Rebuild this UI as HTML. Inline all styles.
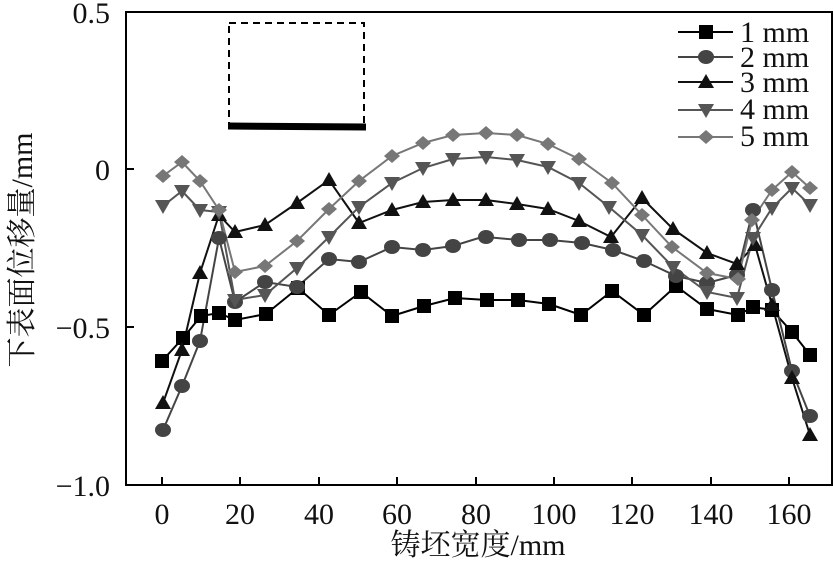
<!DOCTYPE html>
<html><head><meta charset="utf-8"><style>body{margin:0;background:#fff}</style></head><body>
<svg width="834" height="559" viewBox="0 0 834 559" xmlns="http://www.w3.org/2000/svg" font-family="Liberation Serif, Noto Serif CJK SC, serif">
<rect x="126" y="12" width="706" height="473" fill="none" stroke="#000" stroke-width="2"/>
<g stroke="#000" stroke-width="2">
<line x1="126" y1="12" x2="134" y2="12"/><line x1="126" y1="169" x2="134" y2="169"/><line x1="126" y1="327" x2="134" y2="327"/>
<line x1="162" y1="485" x2="162" y2="477"/><line x1="240" y1="485" x2="240" y2="477"/><line x1="319" y1="485" x2="319" y2="477"/><line x1="397" y1="485" x2="397" y2="477"/><line x1="476" y1="485" x2="476" y2="477"/><line x1="554" y1="485" x2="554" y2="477"/><line x1="632" y1="485" x2="632" y2="477"/><line x1="711" y1="485" x2="711" y2="477"/><line x1="789" y1="485" x2="789" y2="477"/>
</g>
<g font-size="30" text-anchor="end" fill="#111">
<text x="110" y="23">0.5</text><text x="110" y="180">0</text><text x="110" y="338">−0.5</text><text x="110" y="496">−1.0</text>
</g>
<g font-size="30" text-anchor="middle" fill="#111">
<text x="162" y="524">0</text><text x="240" y="524">20</text><text x="319" y="524">40</text><text x="397" y="524">60</text><text x="476" y="524">80</text><text x="554" y="524">100</text><text x="632" y="524">120</text><text x="711" y="524">140</text><text x="789" y="524">160</text>
<text x="478" y="555" font-size="30">铸坯宽度/mm</text>
<text transform="translate(32,250) rotate(-90)" font-size="30">下表面位移量/mm</text>
</g>
<rect x="229" y="23" width="135" height="104" fill="none" stroke="#000" stroke-width="2" stroke-dasharray="7,5"/>
<line x1="228" y1="126" x2="366" y2="127" stroke="#000" stroke-width="7"/>
<defs>
<rect id="sq" x="-7" y="-7" width="14" height="14" fill="#000"/>
<ellipse id="ci" rx="8" ry="7" fill="#444"/>
<path id="tu" d="M0,-8 L8,6 L-8,6Z" fill="#111"/>
<path id="td" d="M0,8 L8,-6 L-8,-6Z" fill="#555"/>
<path id="di" d="M0,-7 L8,0 L0,7 L-8,0Z" fill="#777"/>
</defs>
<g fill="none" stroke-width="2">
<polyline stroke="#000" points="162,361 183,338 201,316 219,313 235,320 266,314 298,288 329,315 361,292 392,316 424,306 455,298 487,300 518,300 549,304 581,315 612,291 644,315 676,286 707,309 738,315 753,307 772,310 792,332 810,355"/>
<polyline stroke="#444" points="163,430 182,386 200,341 219,238 235,302 265,282 297,287 329,259 359,262 392,247 423,250 453,246 482,237 486,237 519,240 550,240 582,243 613,250 644,261 676,276 707,283 737,275 753,210 772,290 792,371 810,416"/>
<polyline stroke="#111" points="163,403 182,350 200,273 219,215 235,232 265,225 297,203 329,180 359,223 392,210 423,202 453,200 486,200 517,204 548,209 579,221 611,237 642,198 673,229 707,253 737,264 755,245 772,305 792,378 810,435"/>
<polyline stroke="#555" points="163,206 182,191 200,210 219,212 235,300 265,295 297,268 329,237 359,207 392,183 423,168 453,159 486,157 517,160 548,167 579,183 609,207 642,235 673,267 707,292 737,298 753,238 772,208 792,188 810,205"/>
<polyline stroke="#777" points="163,176 182,162 200,181 219,210 235,272 265,266 297,241 329,209 359,181 392,156 423,143 453,135 486,133 517,135 548,144 579,159 612,183 642,215 672,247 707,273 738,279 752,220 772,190 792,172 810,188"/>
</g>
<g>
<use href="#sq" x="162" y="361"/><use href="#sq" x="183" y="338"/><use href="#sq" x="201" y="316"/><use href="#sq" x="219" y="313"/><use href="#sq" x="235" y="320"/><use href="#sq" x="266" y="314"/><use href="#sq" x="298" y="288"/><use href="#sq" x="329" y="315"/><use href="#sq" x="361" y="292"/><use href="#sq" x="392" y="316"/><use href="#sq" x="424" y="306"/><use href="#sq" x="455" y="298"/><use href="#sq" x="487" y="300"/><use href="#sq" x="518" y="300"/><use href="#sq" x="549" y="304"/><use href="#sq" x="581" y="315"/><use href="#sq" x="612" y="291"/><use href="#sq" x="644" y="315"/><use href="#sq" x="676" y="286"/><use href="#sq" x="707" y="309"/><use href="#sq" x="738" y="315"/><use href="#sq" x="753" y="307"/><use href="#sq" x="772" y="310"/><use href="#sq" x="792" y="332"/><use href="#sq" x="810" y="355"/>
<use href="#ci" x="163" y="430"/><use href="#ci" x="182" y="386"/><use href="#ci" x="200" y="341"/><use href="#ci" x="219" y="238"/><use href="#ci" x="235" y="302"/><use href="#ci" x="265" y="282"/><use href="#ci" x="297" y="287"/><use href="#ci" x="329" y="259"/><use href="#ci" x="359" y="262"/><use href="#ci" x="392" y="247"/><use href="#ci" x="423" y="250"/><use href="#ci" x="453" y="246"/><use href="#ci" x="486" y="237"/><use href="#ci" x="519" y="240"/><use href="#ci" x="550" y="240"/><use href="#ci" x="582" y="243"/><use href="#ci" x="613" y="250"/><use href="#ci" x="644" y="261"/><use href="#ci" x="676" y="276"/><use href="#ci" x="707" y="283"/><use href="#ci" x="737" y="275"/><use href="#ci" x="753" y="210"/><use href="#ci" x="772" y="290"/><use href="#ci" x="792" y="371"/><use href="#ci" x="810" y="416"/>
<use href="#tu" x="163" y="403"/><use href="#tu" x="182" y="350"/><use href="#tu" x="200" y="273"/><use href="#tu" x="219" y="215"/><use href="#tu" x="235" y="232"/><use href="#tu" x="265" y="225"/><use href="#tu" x="297" y="203"/><use href="#tu" x="329" y="180"/><use href="#tu" x="359" y="223"/><use href="#tu" x="392" y="210"/><use href="#tu" x="423" y="202"/><use href="#tu" x="453" y="200"/><use href="#tu" x="486" y="200"/><use href="#tu" x="517" y="204"/><use href="#tu" x="548" y="209"/><use href="#tu" x="579" y="221"/><use href="#tu" x="611" y="237"/><use href="#tu" x="642" y="198"/><use href="#tu" x="673" y="229"/><use href="#tu" x="707" y="253"/><use href="#tu" x="737" y="264"/><use href="#tu" x="755" y="245"/><use href="#tu" x="772" y="305"/><use href="#tu" x="792" y="378"/><use href="#tu" x="810" y="435"/>
<use href="#td" x="163" y="206"/><use href="#td" x="182" y="191"/><use href="#td" x="200" y="210"/><use href="#td" x="219" y="212"/><use href="#td" x="235" y="300"/><use href="#td" x="265" y="295"/><use href="#td" x="297" y="268"/><use href="#td" x="329" y="237"/><use href="#td" x="359" y="207"/><use href="#td" x="392" y="183"/><use href="#td" x="423" y="168"/><use href="#td" x="453" y="159"/><use href="#td" x="486" y="157"/><use href="#td" x="517" y="160"/><use href="#td" x="548" y="167"/><use href="#td" x="579" y="183"/><use href="#td" x="609" y="207"/><use href="#td" x="642" y="235"/><use href="#td" x="673" y="267"/><use href="#td" x="707" y="292"/><use href="#td" x="737" y="298"/><use href="#td" x="753" y="238"/><use href="#td" x="772" y="208"/><use href="#td" x="792" y="188"/><use href="#td" x="810" y="205"/>
<use href="#di" x="163" y="176"/><use href="#di" x="182" y="162"/><use href="#di" x="200" y="181"/><use href="#di" x="219" y="210"/><use href="#di" x="235" y="272"/><use href="#di" x="265" y="266"/><use href="#di" x="297" y="241"/><use href="#di" x="329" y="209"/><use href="#di" x="359" y="181"/><use href="#di" x="392" y="156"/><use href="#di" x="423" y="143"/><use href="#di" x="453" y="135"/><use href="#di" x="486" y="133"/><use href="#di" x="517" y="135"/><use href="#di" x="548" y="144"/><use href="#di" x="579" y="159"/><use href="#di" x="612" y="183"/><use href="#di" x="642" y="215"/><use href="#di" x="672" y="247"/><use href="#di" x="707" y="273"/><use href="#di" x="738" y="279"/><use href="#di" x="752" y="220"/><use href="#di" x="772" y="190"/><use href="#di" x="792" y="172"/><use href="#di" x="810" y="188"/>
</g>
<g stroke-width="2" font-size="30" fill="#111">
<line x1="678" y1="32" x2="733" y2="32" stroke="#000"/><use href="#sq" x="706" y="32"/><text x="740" y="42">1 mm</text>
<line x1="678" y1="57" x2="733" y2="57" stroke="#444"/><use href="#ci" x="706" y="57"/><text x="740" y="67">2 mm</text>
<line x1="678" y1="82" x2="733" y2="82" stroke="#111"/><use href="#tu" x="706" y="82"/><text x="740" y="92">3 mm</text>
<line x1="678" y1="110" x2="733" y2="110" stroke="#555"/><use href="#td" x="706" y="110"/><text x="740" y="119">4 mm</text>
<line x1="678" y1="137" x2="733" y2="137" stroke="#777"/><use href="#di" x="706" y="137"/><text x="740" y="146">5 mm</text>
</g>
</svg>
</body></html>
